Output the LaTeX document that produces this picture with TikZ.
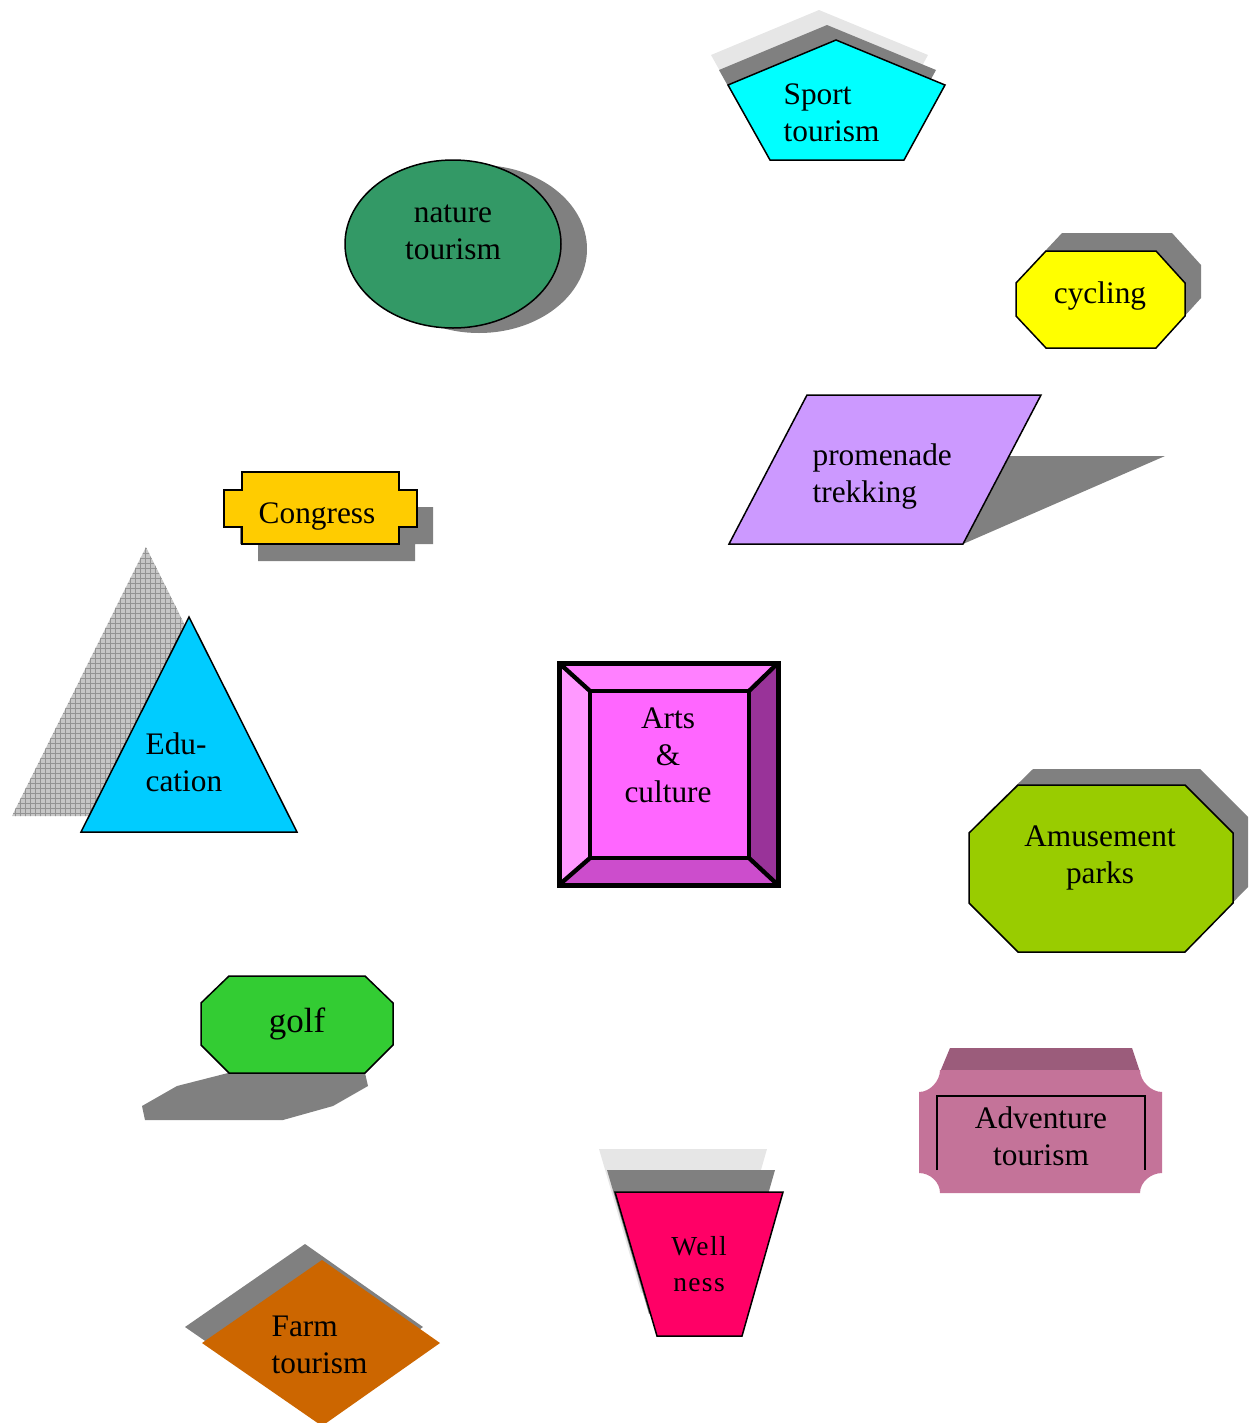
\documentclass[tikz,border=0pt]{standalone}
\usepackage{fontspec}
\setmainfont{Liberation Serif}
\usetikzlibrary{patterns}
\definecolor{shdark}{HTML}{808080}
\definecolor{shlight}{HTML}{E6E6E6}
\definecolor{sportc}{HTML}{00FFFF}
\definecolor{naturec}{HTML}{339966}
\definecolor{cyclec}{HTML}{FFFF00}
\definecolor{promc}{HTML}{CC99FF}
\definecolor{congc}{HTML}{FFCC00}
\definecolor{educ}{HTML}{00CCFF}
\definecolor{amusec}{HTML}{99CC00}
\definecolor{golfc}{HTML}{33CC33}
\definecolor{wellc}{HTML}{FF0066}
\definecolor{farmc}{HTML}{CC6600}
\definecolor{advc}{HTML}{C47399}
\definecolor{advtop}{HTML}{9B5C7B}
\definecolor{artsface}{HTML}{FF66FF}
\definecolor{artstop}{HTML}{FF80FF}
\definecolor{artsleft}{HTML}{FF99FF}
\definecolor{artsright}{HTML}{993399}
\definecolor{artsbot}{HTML}{CC4DCC}
\tikzset{every picture/.style={line width=0.75pt},
	outl/.style={draw=black,line width=0.9pt},
	lbl/.style={font=\fontsize{18.8}{22.2}\selectfont,inner sep=0pt}}

\begin{document}
\begin{tikzpicture}[x=0.6pt,y=-0.6pt]
	\useasboundingbox (0,0) rectangle (1250,1423);
	% Sport tourism
	\foreach \dx/\dy/\c in {-17/-30/shlight,-9/-15/shdark}
		\fill[\c,shift={(\dx,\dy)}] (836,40)--(945,85)--(904,160)--(770,160)--(728,85)--cycle;
	\filldraw[fill=sportc,outl] (836,40)--(945,85)--(904,160)--(770,160)--(728,85)--cycle;
	\node[lbl,align=left,anchor=west] (sport) at (783,113) {Sport\\tourism};
	% nature tourism
	\fill[shdark] (479,249) ellipse [x radius=108,y radius=84];
	\filldraw[fill=naturec,outl] (453,244) ellipse [x radius=108,y radius=84];
	\node[lbl,align=center] (nature) at (453,232) {nature\\tourism};
	% cycling
	\fill[shdark,shift={(16,-18)}] (1046,251)--(1156,251)--(1185,283)--(1185,316)--(1156,348)--(1046,348)--(1016,316)--(1016,283)--cycle;
	\filldraw[fill=cyclec,outl] (1046,251)--(1156,251)--(1185,283)--(1185,316)--(1156,348)--(1046,348)--(1016,316)--(1016,283)--cycle;
	\node[lbl] (cycling) at (1100,296) {cycling};
	% promenade trekking
	\fill[shdark] (729,544)--(963,544)--(1165,456)--(931,456)--cycle;
	\filldraw[fill=promc,outl] (807,395)--(1041,395)--(963,544)--(729,544)--cycle;
	\node[lbl,align=left,anchor=west] (prom) at (812,477) {promenade\\trekking};
	% Congress
	\fill[shdark,shift={(16,17)}] (242,472)--(399,472)--(399,490)--(417,490)--(417,527)--(399,527)--(399,544)--(242,544)--(242,527)--(224,527)--(224,490)--(242,490)--cycle;
	\filldraw[fill=congc,outl] (242,472)--(399,472)--(399,490)--(417,490)--(417,527)--(399,527)--(399,544)--(242,544)--(242,527)--(224,527)--(224,490)--(242,490)--cycle;
	\node[lbl] (congress) at (317,517) {Congress};
	% Education
	\fill[gray!45] (146,547)--(280,816)--(12,816)--cycle;
	\fill[pattern=grid,pattern color=gray!85] (146,547)--(280,816)--(12,816)--cycle;
	\filldraw[fill=educ,outl] (189,617)--(297,832)--(81,832)--cycle;
	\node[lbl,align=left,anchor=west] (edu) at (145,762) {Edu-\\cation};
	% Arts & culture
	\fill[artstop] (559,663)--(778,663)--(749,691)--(590,691)--cycle;
	\fill[artsleft] (559,663)--(590,691)--(590,858)--(559,885)--cycle;
	\fill[artsright] (778,663)--(778,885)--(749,858)--(749,691)--cycle;
	\fill[artsbot] (559,885)--(590,858)--(749,858)--(778,885)--cycle;
	\fill[artsface] (590,691) rectangle (749,858);
	\draw[line width=3pt] (559,663) rectangle (778,885);
	\draw[line width=2.6pt] (590,691) rectangle (749,858);
	\draw[line width=2.6pt] (559,663)--(590,691) (778,663)--(749,691) (559,885)--(590,858) (778,885)--(749,858);
	\node[lbl,align=center] (arts) at (668,755) {Arts\\\&\\culture};
	% Amusement parks
	\fill[shdark,shift={(15,-16)}] (1018,785)--(1185,785)--(1233,833)--(1233,903)--(1185,952)--(1018,952)--(969,903)--(969,833)--cycle;
	\filldraw[fill=amusec,outl] (1018,785)--(1185,785)--(1233,833)--(1233,903)--(1185,952)--(1018,952)--(969,903)--(969,833)--cycle;
	\node[lbl,align=center] (amuse) at (1100,858) {Amusement\\parks};
	% golf
	\fill[shdark] (228,1073)--(177,1086)--(142,1106)--(145,1120)--(283,1120)--(333,1106)--(368,1086)--(365,1073)--cycle;
	\filldraw[fill=golfc,outl] (229,976)--(365,976)--(393,1003)--(393,1045)--(365,1073)--(229,1073)--(201,1045)--(201,1003)--cycle;
	\node[lbl,font=\fontsize{21}{25}\selectfont] (golf) at (297,1024) {golf};
	% Adventure tourism
	\fill[advtop] (950,1048)--(1132,1048)--(1140,1072)--(940,1072)--cycle;
	\fill[advc] (940,1070)--(1140,1070) .. controls (1140,1081) and (1151,1092) .. (1162,1092)--(1162,1173) .. controls (1151,1173) and (1140,1182) .. (1140,1193)--(940,1193) .. controls (940,1182) and (930,1173) .. (919,1173)--(919,1092) .. controls (930,1092) and (940,1081) .. cycle;
	\draw[line width=1pt] (937,1170)--(937,1096)--(1145,1096)--(1145,1170);
	\node[lbl,align=center] (adv) at (1041,1136) {Adventure\\tourism};
	% Wellness
	\foreach \dx/\dy/\c in {-16/-43/shlight,-8/-22/shdark}
		\fill[\c,shift={(\dx,\dy)}] (615,1192)--(783,1192)--(742,1336)--(657,1336)--cycle;
	\filldraw[fill=wellc,outl] (615,1192)--(783,1192)--(742,1336)--(657,1336)--cycle;
	\node[lbl,align=center,font=\fontsize{16.5}{21.6}\selectfont\addfontfeature{LetterSpace=5}] (well) at (699,1264) {Well\\ness};
	% Farm tourism
	\fill[shdark,shift={(-17,-16)}] (322,1260)--(440,1343)--(322,1426)--(202,1343)--cycle;
	\fill[farmc] (322,1260)--(440,1343)--(322,1426)--(202,1343)--cycle;
	\node[lbl,align=left,anchor=west] (farm) at (271,1345) {Farm\\tourism};
\end{tikzpicture}
\end{document}
